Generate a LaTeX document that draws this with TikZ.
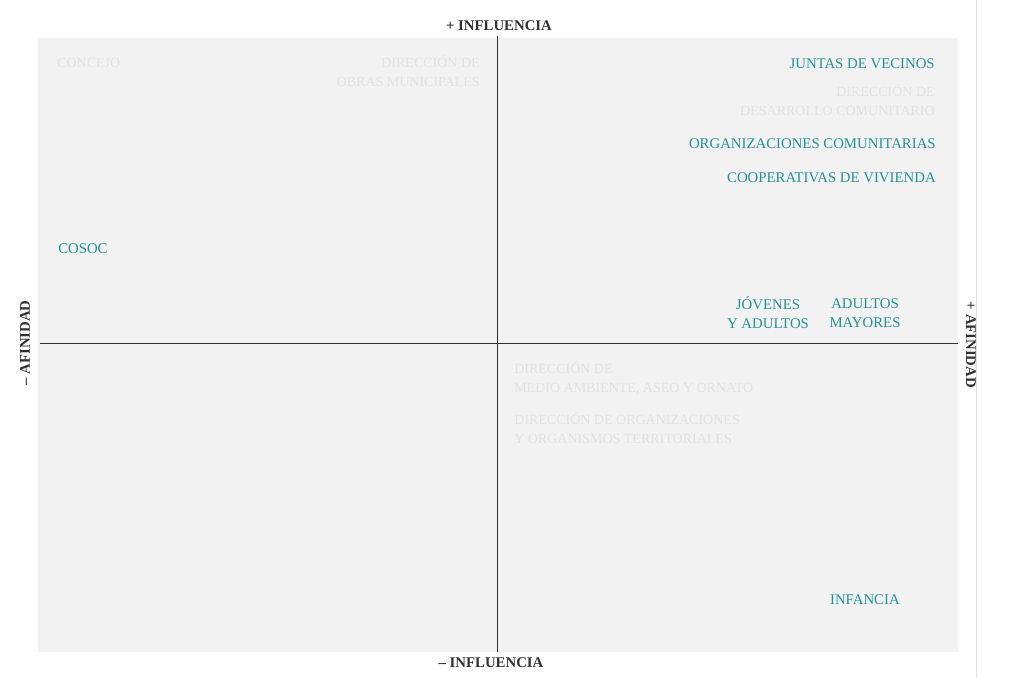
\documentclass[tikz,border=0pt]{standalone}
\usepackage{fontspec}
\setmainfont{Liberation Serif}
\usepackage{tikz}

\definecolor{teal1}{RGB}{34,148,148}
\definecolor{panel}{RGB}{242,242,242}
\definecolor{ghost}{RGB}{226,226,226}
\definecolor{axis}{RGB}{50,50,50}

\tikzset{
  actor/.style={inner sep=0.75pt, text=teal1, font=\fontsize{11.1}{14}\selectfont, align=right},
  ghosttxt/.style={inner sep=0.75pt, text=ghost, font=\fontsize{10.5}{14}\selectfont},
  axlabel/.style={inner sep=0.75pt, text=axis, font=\bfseries\fontsize{11.1}{12}\selectfont}
}

\begin{document}
\begin{tikzpicture}[x=0.75pt,y=0.75pt,yscale=-1,xscale=1]
\useasboundingbox (0,0) rectangle (1015,678);

%Panel
\fill[panel] (38,38) rectangle (958,652);
\draw[ghost, line width=0.6pt] (976,0) -- (976,678);

%Axes
\coordinate (top) at (497,36);
\coordinate (bottom) at (497,652);
\coordinate (left) at (40,343);
\coordinate (right) at (958,343);
\draw[axis, line width=0.65pt] (top) -- (bottom);
\draw[axis, line width=0.65pt] (left) -- (right);

% Axis labels
\node (infup) [axlabel] at (499,26) {+ INFLUENCIA};
\node (infdown) [axlabel] at (491,663) {\textendash{} INFLUENCIA};
\node (afleft) [axlabel, rotate=90] at (25,343) {\textendash{} AFINIDAD};
\node (afright) [axlabel, rotate=-90] at (971,345) {+ AFINIDAD};

% Faint labels
\node (concejo) [ghosttxt, anchor=west] at (56,63) {CONCEJO};
\node (dirobras) [ghosttxt, anchor=east, align=right] at (481,71) {DIRECCIÓN DE\\OBRAS MUNICIPALES};
\node (dideco) [ghosttxt, anchor=east, align=right] at (936,100) {DIRECCIÓN DE\\DESARROLLO COMUNITARIO};
\node (dimao) [ghosttxt, anchor=west, align=left] at (513,378) {DIRECCIÓN DE\\MEDIO AMBIENTE, ASEO Y ORNATO};
\node (diorg) [ghosttxt, anchor=west, align=left] at (513,428) {DIRECCIÓN DE ORGANIZACIONES\\Y ORGANISMOS TERRITORIALES};

% Actors
\node (juntas) [actor, anchor=east] at (936,64) {JUNTAS DE VECINOS};
\node (orgcom) [actor, anchor=east] at (937,144) {ORGANIZACIONES COMUNITARIAS};
\node (coop) [actor, anchor=east] at (937,178) {COOPERATIVAS DE VIVIENDA};
\node (cosoc) [actor, anchor=west] at (57,249) {COSOC};
\node (jovenes) [actor, align=center] at (768,313) {JÓVENES\\Y ADULTOS};
\node (mayores) [actor, align=center] at (865,313) {ADULTOS\\MAYORES};
\node (infancia) [actor, anchor=east] at (901,600) {INFANCIA};

\end{tikzpicture}
\end{document}
